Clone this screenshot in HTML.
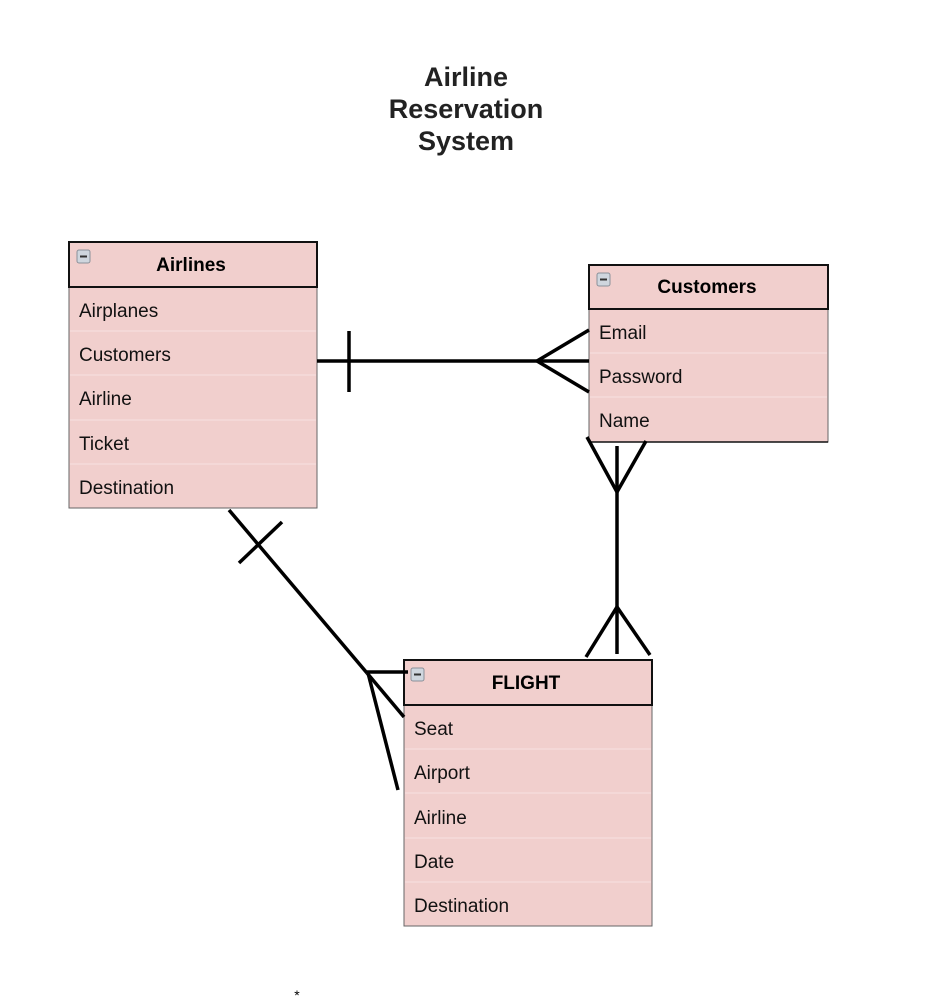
<!DOCTYPE html>
<html><head><meta charset="utf-8"><style>
html,body{margin:0;padding:0;background:#fff;}
svg{display:block;font-family:"Liberation Sans",Arial,sans-serif;}
</style></head><body>
<svg width="944" height="1004" viewBox="0 0 944 1004" xmlns="http://www.w3.org/2000/svg">
<rect width="944" height="1004" fill="#fff"/>
<g font-weight="bold" font-size="27" fill="#222" text-anchor="middle">
<text x="466" y="86">Airline</text>
<text x="466" y="118">Reservation</text>
<text x="466" y="150">System</text>
</g>
<defs>
<g id="icon"><rect x="0" y="0" width="13" height="13" rx="2" fill="#cfd6de" stroke="#8a9099" stroke-width="1"/><rect x="3" y="5.5" width="7" height="2" fill="#333"/></g>
</defs>
<g>
<rect x="69" y="242" width="248" height="266" fill="#f1cfcd" stroke="#666" stroke-width="1"/>
<rect x="69" y="242" width="248" height="45" fill="#f1cfcd" stroke="#111" stroke-width="2"/>
<use href="#icon" x="77" y="250"/>
<text x="191" y="271" font-weight="bold" font-size="19" text-anchor="middle" fill="#000">Airlines</text>
<g stroke="#f6e2e1" stroke-width="1"><line x1="70" y1="331" x2="316" y2="331"/><line x1="70" y1="375" x2="316" y2="375"/><line x1="70" y1="420" x2="316" y2="420"/><line x1="70" y1="464" x2="316" y2="464"/></g>
<g font-size="19" fill="#111"><text x="79" y="317">Airplanes</text><text x="79" y="361">Customers</text><text x="79" y="405">Airline</text><text x="79" y="450">Ticket</text><text x="79" y="494">Destination</text></g>
</g>
<g>
<rect x="589" y="265" width="239" height="177" fill="#f1cfcd" stroke="#666" stroke-width="1"/>
<rect x="589" y="265" width="239" height="44" fill="#f1cfcd" stroke="#111" stroke-width="2"/>
<line x1="589" y1="442" x2="828" y2="442" stroke="#111" stroke-width="1.5"/>
<use href="#icon" x="597" y="273"/>
<text x="707" y="293" font-weight="bold" font-size="19" text-anchor="middle" fill="#000">Customers</text>
<g stroke="#f6e2e1" stroke-width="1"><line x1="590" y1="353" x2="827" y2="353"/><line x1="590" y1="397" x2="827" y2="397"/></g>
<g font-size="19" fill="#111"><text x="599" y="339">Email</text><text x="599" y="383">Password</text><text x="599" y="427">Name</text></g>
</g>
<g>
<rect x="404" y="660" width="248" height="266" fill="#f1cfcd" stroke="#666" stroke-width="1"/>
<rect x="404" y="660" width="248" height="45" fill="#f1cfcd" stroke="#111" stroke-width="2"/>
<use href="#icon" x="411" y="668"/>
<text x="526" y="689" font-weight="bold" font-size="19" text-anchor="middle" fill="#000">FLIGHT</text>
<g stroke="#f6e2e1" stroke-width="1"><line x1="405" y1="749" x2="651" y2="749"/><line x1="405" y1="793" x2="651" y2="793"/><line x1="405" y1="838" x2="651" y2="838"/><line x1="405" y1="882" x2="651" y2="882"/></g>
<g font-size="19" fill="#111"><text x="414" y="735">Seat</text><text x="414" y="779">Airport</text><text x="414" y="824">Airline</text><text x="414" y="868">Date</text><text x="414" y="912">Destination</text></g>
</g>
<g stroke="#000" stroke-width="3.5" fill="none" stroke-linecap="butt">
<line x1="317" y1="361" x2="589" y2="361"/>
<line x1="349" y1="331" x2="349" y2="392"/>
<polyline points="589,330 537,361 589,392"/>
<line x1="617" y1="446" x2="617" y2="654"/>
<polyline points="587,437 617,492 646,441"/>
<polyline points="586,657 617,607 650,655"/>
<line x1="229" y1="510" x2="367" y2="673"/>
<line x1="239" y1="563" x2="282" y2="522"/>
<line x1="367" y1="672" x2="408" y2="672"/>
<line x1="367" y1="673" x2="404" y2="717"/>
<line x1="368" y1="673" x2="398" y2="790"/>
</g>
<text x="297" y="1000" font-size="14" fill="#000" text-anchor="middle">*</text>
</svg>
</body></html>
